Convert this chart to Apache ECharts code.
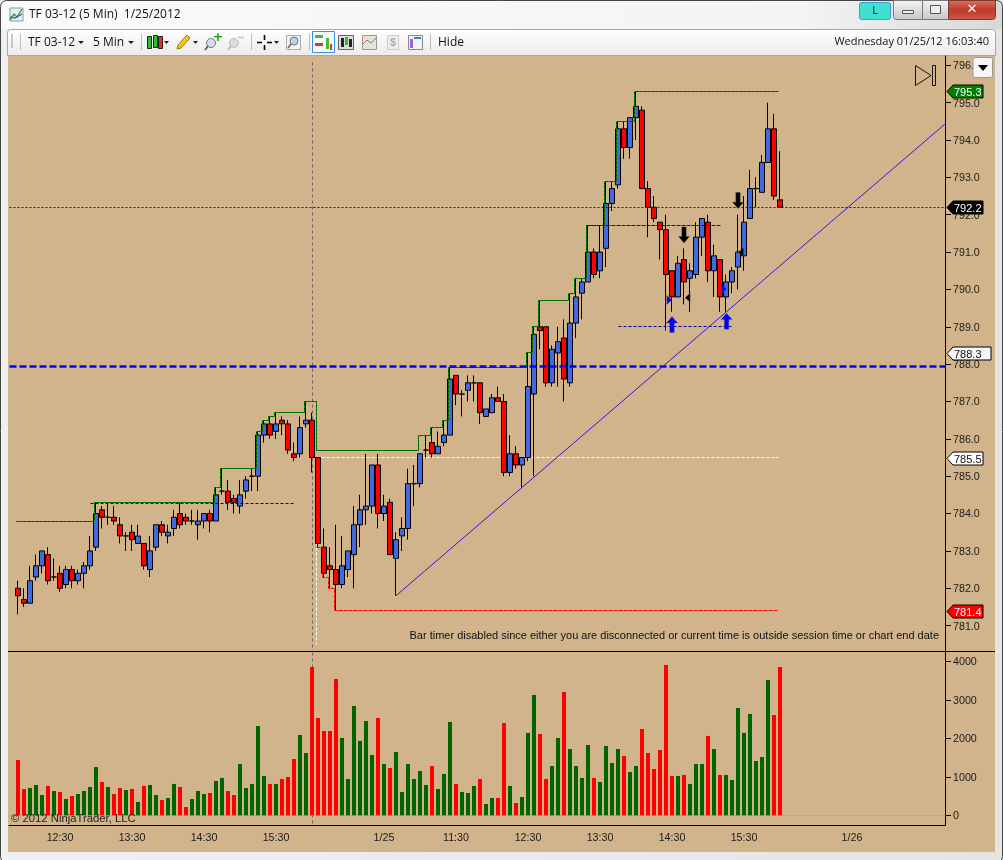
<!DOCTYPE html>
<html><head><meta charset="utf-8"><title>TF 03-12 (5 Min)</title>
<style>html,body{margin:0;padding:0;background:#eee;overflow:hidden}#c{width:1003px;height:860px}</style>
<script src="https://cdn.jsdelivr.net/npm/echarts@6/dist/echarts.min.js"></script></head>
<body><div id="c"></div><script>
// ---- chart data (price bars, in time order) ----
const opens=[782.0,781.7,781.6,782.3,782.6,782.9,782.3,782.4,782.1,782.5,782.2,782.4,782.6,783.1,784.1,783.9,783.9,783.7,783.4,783.5,783.2,783.2,782.5,783.1,783.7,783.4,783.6,784.0,783.9,783.8,783.7,783.8,784.0,783.8,784.6,784.6,784.4,784.2,784.6,785.0,785.0,786.1,786.4,786.2,786.5,786.4,785.6,785.6,786.4,786.5,785.5,783.1,782.6,782.5,782.1,782.5,782.9,783.7,784.1,784.2,785.3,784.0,784.3,782.8,783.4,783.6,784.8,784.8,785.7,785.9,785.6,785.9,786.1,787.7,787.2,787.3,787.5,787.5,786.6,786.7,787.1,787.0,785.1,785.6,785.3,785.5,787.2,789.0,789.0,787.5,788.3,788.7,787.5,789.1,789.9,790.2,791.0,790.5,791.1,792.3,792.8,794.3,793.8,794.6,794.8,792.7,792.2,791.8,791.6,790.5,789.8,790.8,790.3,790.4,791.4,791.8,790.5,790.8,789.8,790.2,790.6,790.9,791.9,792.7,792.6,793.4,794.3,792.4];
const closes=[781.8,781.6,782.2,782.6,783.0,782.2,782.3,782.0,782.5,782.2,782.4,782.6,783.0,784.0,783.9,783.9,783.8,783.4,783.4,783.3,783.4,782.6,783.0,783.7,783.5,783.5,783.9,783.7,783.8,783.8,783.8,784.0,783.8,784.5,784.6,784.3,784.3,784.5,784.9,785.0,786.1,786.4,786.1,786.4,786.4,785.7,785.5,786.3,786.5,785.5,783.2,782.4,782.5,782.1,782.6,783.0,783.7,784.1,784.2,785.3,784.0,784.2,782.9,783.3,783.6,784.8,784.8,785.6,785.7,785.6,785.8,786.1,787.6,787.2,787.2,787.5,787.5,786.7,786.8,787.1,787.0,785.1,785.6,785.3,785.5,787.4,788.8,788.9,787.5,788.4,788.6,787.6,789.1,789.8,790.2,791.0,790.4,791.0,792.3,792.7,794.3,793.8,794.6,794.9,792.7,792.2,791.9,791.6,790.4,789.8,790.7,790.2,790.5,791.4,791.9,790.5,790.9,789.8,790.2,790.5,791.0,791.8,792.7,792.7,793.4,794.3,792.5,792.2];
const highs=[782.2,782.0,782.6,782.9,783.0,783.1,782.8,782.6,782.6,782.6,782.5,782.7,783.4,784.3,784.2,784.3,784.2,783.9,783.5,783.7,783.7,783.2,783.4,783.7,783.8,783.7,784.1,784.3,784.0,784.1,784.1,784.0,784.1,784.7,785.2,784.9,784.5,784.9,785.0,785.2,786.2,786.5,786.6,786.7,786.6,786.5,785.9,786.6,787.0,786.7,785.5,783.6,783.1,783.7,783.4,783.0,784.2,784.5,785.6,785.3,785.6,784.5,784.4,783.5,783.9,785.2,785.3,785.6,786.1,786.3,786.2,786.5,787.9,787.7,787.3,787.7,787.7,787.5,786.8,787.2,787.4,787.2,786.1,785.8,785.5,788.3,789.0,789.7,789.0,788.5,789.0,789.2,789.9,790.3,790.3,791.7,791.1,791.7,792.9,792.9,794.5,794.5,794.6,795.3,794.9,792.9,792.5,791.8,792.0,790.5,790.9,791.1,790.7,791.8,791.9,792.0,791.2,790.8,790.4,790.6,792.0,792.5,793.2,793.0,793.6,795.0,794.7,793.7];
const lows=[781.3,781.5,781.6,782.2,782.4,782.1,782.2,781.9,782.0,782.0,782.1,782.0,782.5,783.0,783.6,783.7,783.7,783.2,783.0,783.0,783.2,782.5,782.3,783.0,783.4,783.2,783.4,783.6,783.7,783.7,783.3,783.6,783.5,783.8,784.5,784.1,784.0,784.0,784.4,784.6,784.6,785.9,786.0,786.0,786.1,785.6,785.4,785.5,786.3,785.1,783.1,782.3,782.0,781.4,782.0,782.3,782.0,783.1,783.7,784.0,783.6,783.8,782.9,781.8,783.0,783.3,784.2,784.7,785.5,785.5,785.6,785.8,786.1,786.9,786.6,787.0,787.0,786.4,786.6,786.7,787.0,785.0,785.0,785.2,784.7,785.4,785.0,788.4,787.4,787.4,787.4,787.0,787.4,788.7,789.2,790.2,790.3,790.3,790.6,792.1,792.7,793.5,793.5,794.0,792.7,791.4,791.8,790.8,788.9,789.4,789.8,789.6,789.4,790.3,790.9,790.2,789.8,789.4,789.4,789.9,790.0,790.5,791.9,792.2,792.6,793.4,792.4,792.2];
const volumes=[1437,684,710,788,528,762,632,606,424,502,554,632,736,1255,866,736,554,710,658,684,346,762,788,528,398,450,814,736,216,424,632,554,580,892,970,632,528,1333,710,814,2320,1022,814,814,944,996,1463,2087,1619,3853,2528,2190,2190,3541,2009,944,2840,1931,2450,1567,2528,1333,1229,1645,606,1333,944,1151,788,1281,684,1074,2424,814,606,580,762,944,294,450,450,2398,762,320,476,2139,3126,2113,944,1281,2009,3203,1723,1281,970,1827,970,866,1801,1359,1723,1541,1126,1281,2242,1619,1203,1697,3905,1022,1022,1048,814,1333,1333,2061,1723,1048,1048,918,2788,2139,2632,1411,1515,3515,2606,3853];
// ---- axis ticks ----
const priceTicks=[781,782,783,784,785,786,787,788,789,790,791,792,793,794,795,796];
const volumeTicks=[0,1000,2000,3000,4000];
const timeTickLabels=['12:30','13:30','14:30','15:30','1/25','11:30','12:30','13:30','14:30','15:30','1/26'];
const timeTickBars=[7,19,31,43,61,73,85,97,109,121,139];
// ---- overlays, x measured in bars (0 = first bar), y in price ----
const sessionHigh=[[-0.28,783.8],[12.78,784.3],[32.78,784.7],[33.78,785.2],[39.72,786.2],[40.78,786.5],[41.78,786.6],[42.78,786.7],[47.78,787.0],[49.78,785.7],[66.72,786.1],[68.72,786.3],[70.72,786.5],[71.72,787.9],[84.78,788.3],[85.72,789.0],[86.72,789.7],[91.72,789.9],[92.72,790.3],[94.78,791.7],[97.78,792.9],[99.78,794.5],[102.78,795.3],[126.8,795.3]];
const sessionLow=[[49.8,783.1],[50.78,782.3],[51.78,782.0],[52.78,781.4],[126.8,781.4]];
const priorHigh=[[12.05,784.27],[45.95,784.27]];
const pivotLine=[[-1.5,787.95],[154.5,787.95]];
const lastLine=[[-1.5,792.19],[154.5,792.19]];
const openLine=[[49.8,785.5],[126.8,785.5]];
const swingHigh=[[94.8,791.7],[117,791.7]];
const swingLow=[[100,789.0],[119.1,789.0]];
const trendLine=[[63,781.8],[154.5,794.43]];
const cursorPrice=[[49.08,796.07],[49.08,780.32]];
const cursorVolume=[[49.08,4242],[49.08,-230]];
const sessionBreak=[[49.72,785.5],[49.72,780.5]];
const upArrows=[[109,789.06],[118.1,789.15]];
const downArrows=[[111,791.46],[120,792.38]];
const rightMarks=[[108.55,789.72],[117.67,790.01]];
const leftMarks=[[111.6,789.78],[120.5,791.0]];
const priceTags=[795.3,792.2,788.3,785.5,781.4];

// ---- library structures ----
const LEAD=1, SLOTS=156;
const G=[{left:9,width:936,top:56,height:595},{left:9,width:936,top:652,height:173}];
const R=[[780.32,796.25],[-252,4242]];
const cats=Array.from({length:SLOTS},()=> '');
timeTickBars.forEach((b,i)=>{cats[b+LEAD]=timeTickLabels[i];});
const pad=a=>Array(LEAD).fill('-').concat(a);
const candleData=pad(opens.map((o,i)=>[o,closes[i],lows[i],highs[i]]));
const volData=pad(volumes.map((v,i)=>({value:v,itemStyle:{color:closes[i]<opens[i]?'#ff0000':'#006400'}})));
const X=p=>[p[0]+LEAD+0.5,p[1]];
// keep axis-parallel rules on whole device pixels so one-pixel lines stay crisp
function crisp(p,g){
  const gr=G[g],r=R[g],k=gr.height/(r[1]-r[0]);
  const py=gr.top+gr.height-(p[1]-r[0])*k, px=gr.left+p[0]*gr.width/SLOTS;
  return [(Math.floor(px)+.5-gr.left)*SLOTS/gr.width, r[0]+(gr.top+gr.height-Math.floor(py)-.5)/k];
}
const FONT='"Liberation Sans",Arial,sans-serif', UI='"Open Sans","Noto Sans",sans-serif';
const TAN='#d2b48c';
const tagStyle={795.3:['#008000','#fff',36],792.2:['#000','#fff',36],788.3:['#f5f5f5','#111',44],785.5:['#fff','#111',36],781.4:['#ff0000','#fff',36]};

function line(pts,color,width,dash,z,step,grid,soft){
  const g=grid?1:0;
  return {type:'line',xAxisIndex:grid?3:2,yAxisIndex:g,data:pts.map(X).map(p=>soft?p:crisp(p,g)),symbol:'none',step:step||false,silent:true,z:z,
    lineStyle:{color:color,width:width,type:dash||'solid',cap:'butt'},clip:false,animation:false};
}
function marks(pts,path,size,color,rotate){
  return {type:'scatter',xAxisIndex:2,yAxisIndex:0,data:pts.map(X),symbol:path,symbolSize:size,symbolRotate:rotate||0,silent:true,z:8,
    itemStyle:{color:color,borderColor:'rgba(90,80,70,.55)',borderWidth:.7,opacity:1},animation:false};
}
const ARROW='path://M5 0L10 6L7 6L7 15L3 15L3 6L0 6Z', RT='path://M0 0L10 5L0 10Z', LT='path://M10 0L0 5L10 10Z';

const axText={color:'#1a1a1a',fontFamily:FONT,fontSize:10.7};
const richY={t:{color:'#1a1a1a',fontFamily:FONT,fontSize:10.7,padding:[2,0,0,0]}};
const vg=(a,b)=>new echarts.graphic.LinearGradient(0,0,0,1,[{offset:0,color:a},{offset:1,color:b}]);
const option={
  animation:false,backgroundColor:'#efefef',
  grid:G,
  xAxis:[
    {type:'category',gridIndex:0,data:cats,boundaryGap:true,axisLabel:{show:false},axisTick:{show:false},splitLine:{show:false},axisLine:{onZero:false,lineStyle:{color:'#000',width:1}}},
    {type:'category',gridIndex:1,data:cats,boundaryGap:true,splitLine:{show:false},
      axisLine:{onZero:false,lineStyle:{color:'#000',width:1}},
      axisTick:{alignWithLabel:true,length:6,lineStyle:{color:'#000'},interval:(i,n)=>n!==''},
      axisLabel:Object.assign({},axText,{margin:8,hideOverlap:false,interval:(i,n)=>n!==''})},
    {type:'value',gridIndex:0,min:0,max:SLOTS,show:false},
    {type:'value',gridIndex:1,min:0,max:SLOTS,show:false}
  ],
  yAxis:[
    {type:'value',gridIndex:0,position:'right',min:R[0][0],max:R[0][1],splitLine:{show:false},
      axisLine:{show:true,onZero:false,lineStyle:{color:'#000'}},
      axisTick:{show:true,length:6,lineStyle:{color:'#000'},customValues:priceTicks},
      axisLabel:Object.assign({},axText,{margin:8,customValues:priceTicks,rich:richY,formatter:v=>'{t|'+(+v).toFixed(1)+'}',showMinLabel:true,showMaxLabel:true})},
    {type:'value',gridIndex:1,position:'right',min:R[1][0],max:R[1][1],splitLine:{show:false},
      axisLine:{show:true,onZero:false,lineStyle:{color:'#000'}},
      axisTick:{show:true,length:6,lineStyle:{color:'#000'},customValues:volumeTicks},
      axisLabel:Object.assign({},axText,{margin:8,customValues:volumeTicks,rich:richY,formatter:v=>'{t|'+v+'}'})}
  ],
  series:[
    line(cursorPrice,'#666666',1,[3,3],1),
    line(cursorVolume,'#666666',1,[3,3],1,false,1),
    line(sessionBreak,'#ffffff',1,[3,2],1),
    line(openLine,'#ffffff',1,[3,2],2),
    {type:'candlestick',xAxisIndex:0,yAxisIndex:0,data:candleData,barWidth:5,silent:true,z:4,
      itemStyle:{color:'#4169e1',color0:'#ff0000',borderColor:'#000',borderColor0:'#000',borderColorDoji:'#000',borderWidth:1}},
    {type:'bar',xAxisIndex:1,yAxisIndex:1,data:volData,barWidth:4,silent:true,z:4},
    line([[-1.5,0],[154.5,0]],'#a9a9a9',1,'solid',3,false,1),
    line(sessionHigh,'#008a00',1,'solid',5,'end'),
    line(sessionHigh,'#102010',1,[1,3],5,'end'),
    line(sessionLow,'#ff0000',1,[4,1],5,'end'),
    line(priorHigh,'#0000b0',1,[3,2],6),
    line(pivotLine,'#0000ff',2.5,[7,3],6),
    line(lastLine,'#1a1a66',1,[2,2],6),
    line(swingHigh,'#0000ff',1,[4,1],6),
    line(swingLow,'#0000a0',1,[3,2],6),
    line(trendLine,'#2a1adf',1,'solid',7,false,0,true),
    marks(upArrows,ARROW,[11,16],'#0000ff'),
    marks(downArrows,ARROW,[11,16],'#000000',180),
    marks(rightMarks,RT,[5,9],'#0000ff'),
    marks(leftMarks,LT,[5,9],'#000000'),
    {type:'custom',xAxisIndex:2,yAxisIndex:0,silent:true,z:20,clip:false,data:priceTags.map(v=>[SLOTS,v]),
      encode:{x:0,y:1},
      renderItem:(p,api)=>{
        const c=api.coord([api.value(0),api.value(1)]);
        const v=api.value(1); const s=tagStyle[v.toFixed(1)];
        const x=c[0]+2, y=Math.round(c[1])+.5, w=s[2];
        return {type:'group',children:[
          {type:'polygon',shape:{points:[[x,y],[x+6,y-6.5],[x+w,y-6.5],[x+w,y+6.5],[x+6,y+6.5]]},style:{fill:s[0],stroke:'#000',lineWidth:1}},
          {type:'text',style:{text:v.toFixed(1),x:x+7,y:y+1,verticalAlign:'middle',align:'left',fill:s[1],font:'11px '+FONT}}
        ]};
      }}
  ],
  graphic:{elements:[
    // backdrop
    {type:'rect',z:-10,shape:{x:8,y:55,width:987,height:797},style:{fill:TAN}},
    {type:'line',z:-5,shape:{x1:8,y1:651.5,x2:995,y2:651.5},style:{stroke:'#000',lineWidth:1}},
    // window edges
    {type:'rect',z:-11,shape:{x:0,y:0,width:1003,height:860},style:{fill:new echarts.graphic.LinearGradient(0,0,1,0,[{offset:0,color:'#eef0f2'},{offset:1,color:'#e4e4e4'}])}},
    {type:'rect',z:-9,shape:{x:0.5,y:0.5,width:1002,height:862,r:6},style:{fill:'none',stroke:'#444',lineWidth:1}},
    {type:'rect',z:-10,shape:{x:1,y:1,width:1001,height:28},style:{fill:new echarts.graphic.LinearGradient(0,0,1,1,[{offset:0,color:'#fafafa'},{offset:.8,color:'#f4f4f4'},{offset:1,color:'#d8d8d8'}])}},
    {type:'rect',z:-10,shape:{x:7.5,y:29.5,width:988,height:26,r:[3,3,0,0]},style:{fill:vg('#ffffff','#ebebeb'),stroke:'#a8a8a8',lineWidth:1}},
    // title
    {type:'rect',z:50,shape:{x:10,y:8,width:13,height:13},style:{fill:'#e8eef8',stroke:'#8899aa'}},
    {type:'polyline',z:51,shape:{points:[[10,20],[14,14],[17,17],[22,9]]},style:{stroke:'#2aa02a',fill:'none',lineWidth:1.4}},
    {type:'polyline',z:51,shape:{points:[[10,17],[15,18],[22,14]]},style:{stroke:'#2255cc',fill:'none',lineWidth:1.2}},
    {type:'text',z:50,style:{text:'TF 03-12 (5 Min)  1/25/2012',x:29,y:15,verticalAlign:'middle',fill:'#111',font:'12px '+UI}},
    // window buttons
    {type:'rect',z:50,shape:{x:859.5,y:2.5,width:31,height:17,r:2},style:{fill:'#40e0d0',stroke:'#3a9ad8'}},
    {type:'text',z:51,style:{text:'L',x:875,y:11,align:'center',verticalAlign:'middle',fill:'#222',font:'11px '+UI}},
    {type:'rect',z:50,shape:{x:893.5,y:0.5,width:29,height:19,r:[0,0,0,3]},style:{fill:vg('#f4f4f4','#c4c8cc'),stroke:'#777'}},
    {type:'rect',z:51,shape:{x:902.5,y:10.5,width:11,height:3},style:{fill:'#eee',stroke:'#555'}},
    {type:'rect',z:50,shape:{x:922.5,y:0.5,width:26,height:19},style:{fill:vg('#f4f4f4','#c4c8cc'),stroke:'#777'}},
    {type:'rect',z:51,shape:{x:930.5,y:5.5,width:10,height:8},style:{fill:'#eee',stroke:'#555'}},
    {type:'rect',z:50,shape:{x:948.5,y:0.5,width:47,height:19,r:[0,0,3,0]},style:{fill:new echarts.graphic.LinearGradient(0,0,0,1,[{offset:0,color:'#d9705f'},{offset:.5,color:'#c0392b'},{offset:1,color:'#cf5a4a'}]),stroke:'#7a3a32'}},
    {type:'text',z:51,style:{text:'✕',x:972,y:10,align:'center',verticalAlign:'middle',fill:'#fff',font:'bold 13px "DejaVu Sans"'}},
    // toolbar
    {type:'rect',z:50,shape:{x:11,y:34,width:2,height:14},style:{fill:'#c8c8c8'}},
    {type:'line',z:50,shape:{x1:20.5,y1:34,x2:20.5,y2:50},style:{stroke:'#bbb'}},
    {type:'text',z:50,style:{text:'TF 03-12',x:28,y:43,verticalAlign:'middle',fill:'#111',font:'12px '+UI}},
    {type:'polygon',z:50,shape:{points:[[78,41],[84,41],[81,44]]},style:{fill:'#222'}},
    {type:'text',z:50,style:{text:'5 Min',x:93,y:43,verticalAlign:'middle',fill:'#111',font:'12px '+UI}},
    {type:'polygon',z:50,shape:{points:[[128,41],[134,41],[131,44]]},style:{fill:'#222'}},
    {type:'line',z:50,shape:{x1:141.5,y1:34,x2:141.5,y2:50},style:{stroke:'#bbb'}},
    {type:'rect',z:50,shape:{x:147.5,y:36.5,width:4,height:12},style:{fill:'#33bb33',stroke:'#222'}},
    {type:'rect',z:50,shape:{x:153.5,y:35.5,width:4,height:12},style:{fill:'#33bb33',stroke:'#222'}},
    {type:'rect',z:50,shape:{x:158.5,y:36.5,width:4,height:12},style:{fill:'#dd3322',stroke:'#222'}},
    {type:'polygon',z:50,shape:{points:[[164,41],[169,41],[166.5,44]]},style:{fill:'#222'}},
    {type:'polygon',z:50,shape:{points:[[177,49],[178,45],[187,35],[190,38],[181,48]]},style:{fill:'#f5c518',stroke:'#a07810'}},
    {type:'polygon',z:50,shape:{points:[[193,41],[198,41],[195.5,44]]},style:{fill:'#222'}},
    {type:'circle',z:50,shape:{cx:211,cy:43,r:4.5},style:{fill:'#cfe0f5',stroke:'#777'}},
    {type:'line',z:50,shape:{x1:208,y1:46,x2:205,y2:50},style:{stroke:'#666',lineWidth:2}},
    {type:'text',z:50,style:{text:'+',x:218,y:38,align:'center',verticalAlign:'middle',fill:'#12a012',font:'bold 13px "DejaVu Sans"'}},
    {type:'circle',z:50,shape:{cx:234,cy:43,r:4.5},style:{fill:'#dcdcdc',stroke:'#bbb'}},
    {type:'line',z:50,shape:{x1:231,y1:46,x2:228,y2:50},style:{stroke:'#bbb',lineWidth:2}},
    {type:'line',z:50,shape:{x1:238,y1:37.5,x2:244,y2:37.5},style:{stroke:'#ccc',lineWidth:2}},
    {type:'line',z:50,shape:{x1:251.5,y1:34,x2:251.5,y2:50},style:{stroke:'#bbb'}},
    {type:'line',z:50,shape:{x1:257,y1:42.5,x2:262,y2:42.5},style:{stroke:'#000',lineWidth:1.6}},
    {type:'line',z:50,shape:{x1:267,y1:42.5,x2:272,y2:42.5},style:{stroke:'#000',lineWidth:1.6}},
    {type:'line',z:50,shape:{x1:264.5,y1:35,x2:264.5,y2:40},style:{stroke:'#000',lineWidth:1.6}},
    {type:'line',z:50,shape:{x1:264.5,y1:45,x2:264.5,y2:50},style:{stroke:'#000',lineWidth:1.6}},
    {type:'polygon',z:50,shape:{points:[[274,41],[279,41],[276.5,44]]},style:{fill:'#222'}},
    {type:'rect',z:50,shape:{x:286.5,y:35.5,width:14,height:14},style:{fill:'#f4f4f4',stroke:'#aaa'}},
    {type:'circle',z:51,shape:{cx:294,cy:41,r:4},style:{fill:'#b8d4f0',stroke:'#777'}},
    {type:'line',z:51,shape:{x1:291,y1:44,x2:288,y2:48},style:{stroke:'#666',lineWidth:1.5}},
    {type:'line',z:50,shape:{x1:309.5,y1:34,x2:309.5,y2:50},style:{stroke:'#bbb'}},
    {type:'rect',z:50,shape:{x:312.5,y:31.5,width:22,height:21},style:{fill:'#f4f9fe',stroke:'#3a8fe0'}},
    {type:'rect',z:51,shape:{x:315,y:35,width:8,height:3},style:{fill:'#44bb33'}},
    {type:'rect',z:51,shape:{x:315,y:43,width:8,height:3},style:{fill:'#dd3322'}},
    {type:'rect',z:51,shape:{x:326,y:38,width:3,height:11},style:{fill:'#44bb33'}},
    {type:'rect',z:51,shape:{x:330,y:44,width:2,height:6},style:{fill:'#dd3322'}},
    {type:'rect',z:50,shape:{x:338.5,y:35.5,width:15,height:14},style:{fill:'#ddd',stroke:'#666'}},
    {type:'rect',z:51,shape:{x:341,y:38,width:3,height:9},style:{fill:'#222'}},
    {type:'rect',z:51,shape:{x:345,y:37,width:3,height:8},style:{fill:'#33bb33'}},
    {type:'rect',z:51,shape:{x:349,y:39,width:3,height:8},style:{fill:'#222'}},
    {type:'rect',z:50,shape:{x:362.5,y:35.5,width:14,height:14},style:{fill:'#dfe6df',stroke:'#999'}},
    {type:'polyline',z:51,shape:{points:[[363,44],[367,40],[371,43],[376,38]]},style:{fill:'none',stroke:'#dd5544'}},
    {type:'rect',z:50,shape:{x:387.5,y:35.5,width:11,height:14},style:{fill:'#eee',stroke:'#ccc'}},
    {type:'text',z:51,style:{text:'$',x:393,y:43,align:'center',verticalAlign:'middle',fill:'#aaa',font:'bold 10px '+FONT}},
    {type:'rect',z:50,shape:{x:408.5,y:35.5,width:14,height:14},style:{fill:'#f4f4f4',stroke:'#888'}},
    {type:'rect',z:51,shape:{x:410,y:39,width:3,height:9},style:{fill:'#9966dd'}},
    {type:'rect',z:51,shape:{x:414,y:37,width:7,height:2},style:{fill:'#4477cc'}},
    {type:'line',z:50,shape:{x1:430.5,y1:34,x2:430.5,y2:50},style:{stroke:'#bbb'}},
    {type:'text',z:50,style:{text:'Hide',x:438,y:43,verticalAlign:'middle',fill:'#111',font:'12px '+UI}},
    {type:'text',z:50,style:{text:'Wednesday 01/25/12 16:03:40',x:989,y:42,align:'right',verticalAlign:'middle',fill:'#111',font:'11px '+UI}},
    // chart furniture
    {type:'polygon',z:50,shape:{points:[[915.5,65.5],[931,75.5],[915.5,85.5]]},style:{fill:'none',stroke:'#111'}},
    {type:'rect',z:50,shape:{x:932.5,y:65.5,width:3,height:20},style:{fill:'none',stroke:'#111'}},
    {type:'rect',z:50,shape:{x:973,y:57.5,width:19.5,height:20,r:2},style:{fill:'#f6f6f6',stroke:'#999'}},
    {type:'polygon',z:51,shape:{points:[[978,65],[988,65],[983,71]]},style:{fill:'#000'}},
    {type:'text',z:50,style:{text:'Bar timer disabled since either you are disconnected or current time is outside session time or chart end date',x:939,y:636,align:'right',verticalAlign:'middle',fill:'#111',font:'11px '+FONT}},
    {type:'text',z:50,style:{text:'© 2012 NinjaTrader, LLC',x:11,y:819,verticalAlign:'middle',fill:'#222',font:'11.3px '+FONT}}
  ]}
};
const chart=echarts.init(document.getElementById('c'),null,{renderer:'canvas',width:1003,height:860});
chart.setOption(option);
</script></body></html>
